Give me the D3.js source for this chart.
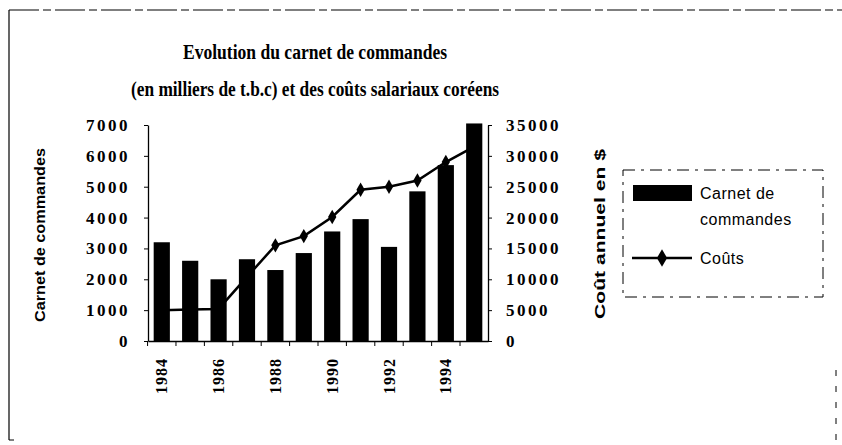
<!DOCTYPE html>
<html><head><meta charset="utf-8">
<script src="https://cdn.jsdelivr.net/npm/d3@7"></script>
<style>body{margin:0;background:#fff}svg{display:block}</style>
</head><body>
<svg id="c" width="842" height="445"></svg>
<script>
const years = [1984,1985,1986,1987,1988,1989,1990,1991,1992,1993,1994,1995];
const carnet = [3200,2600,2000,2650,2300,2850,3550,3950,3050,4850,5700,7050];
const couts = [5000,5100,5200,10400,15500,17000,20100,24500,25000,26000,29000,31500];
const leftTicks = [0,1000,2000,3000,4000,5000,6000,7000];
const rightTicks = [0,5000,10000,15000,20000,25000,30000,35000];
const yearLabels = [1984,1986,1988,1990,1992,1994];
const titleLines = ["Evolution du carnet de commandes","(en milliers de t.b.c) et des coûts salariaux coréens"];
const seriesNames = ["Carnet de commandes","Coûts"];

const svg = d3.select("#c");
const serif = "'Liberation Serif','Times New Roman',serif";
const sans = "'Liberation Sans',Arial,sans-serif";

// frame
svg.append("line").attr("x1",9).attr("y1",10).attr("x2",9).attr("y2",440).attr("stroke","#000").attr("stroke-width",1.2);
svg.append("line").attr("x1",9).attr("y1",10).attr("x2",842).attr("y2",10).attr("stroke","#000").attr("stroke-width",1.2).attr("stroke-dasharray","30,4,8,4");
svg.append("line").attr("x1",9).attr("y1",440).attr("x2",14).attr("y2",440).attr("stroke","#000");
svg.append("line").attr("x1",836).attr("y1",370).attr("x2",836).attr("y2",440).attr("stroke","#000").attr("stroke-dasharray","6,10");

const x = d3.scaleBand().domain(years).range([148,488]).paddingInner(0.43).paddingOuter(0.2);
const yL = d3.scaleLinear().domain([0,7000]).range([341,125]);
const yR = d3.scaleLinear().domain([0,35000]).range([341,125]);

// title
svg.append("g").selectAll("text").data(titleLines).join("text")
  .attr("x",315).attr("y",(d,i)=>59+i*37).attr("text-anchor","middle")
  .attr("font-family",serif).attr("font-weight","bold").attr("font-size",20)
  .attr("textLength",(d,i)=>i?368:264).attr("lengthAdjust","spacingAndGlyphs")
  .text(d=>d);

// bars
svg.append("g").selectAll("rect").data(years).join("rect")
  .attr("x",d=>x(d)).attr("width",x.bandwidth())
  .attr("y",(d,i)=>yL(carnet[i])).attr("height",(d,i)=>yL(0)-yL(carnet[i]))
  .attr("fill","#000");

// axes
const fmt = d3.format("d");
const axL = svg.append("g").attr("transform","translate(148,0)")
  .call(d3.axisLeft(yL).tickValues(leftTicks).tickFormat(fmt).tickSize(4).tickSizeOuter(0).tickPadding(14));
const axR = svg.append("g").attr("transform","translate(488,0)")
  .call(d3.axisRight(yR).tickValues(rightTicks).tickFormat(fmt).tickSize(4).tickSizeOuter(0).tickPadding(14));
[axL,axR].forEach(a=>{
  a.selectAll("text").attr("font-family",serif).attr("font-weight","bold").attr("font-size",17).attr("letter-spacing","2.5px").attr("fill","#000");
  a.select(".domain").attr("stroke-width",1.3);
});
const axB = svg.append("g").attr("transform","translate(0,341)")
  .call(d3.axisBottom(x).tickValues(yearLabels).tickSize(0).tickSizeOuter(0).tickPadding(0));
axB.select(".domain").attr("stroke-width",1.3);
axB.selectAll("text").attr("font-family",serif).attr("font-weight","bold").attr("font-size",16)
  .attr("letter-spacing","1px")
  .attr("transform","rotate(-90)").attr("text-anchor","end").attr("x",-17).attr("y",0).attr("dy","0.35em");
// boundary ticks on x axis
const step = x.step();
svg.append("g").selectAll("line").data(years).join("line")
  .attr("x1",d=>x(d)-step*x.paddingInner()/2).attr("x2",d=>x(d)-step*x.paddingInner()/2)
  .attr("y1",341).attr("y2",346).attr("stroke","#000");

// line
const line = d3.line().x((d,i)=>x(years[i])+x.bandwidth()/2).y(d=>yR(d));
svg.append("path").datum(couts).attr("d",line).attr("fill","none").attr("stroke","#000").attr("stroke-width",2.5);
svg.append("g").selectAll("path").data(couts).join("path")
  .attr("transform",(d,i)=>`translate(${x(years[i])+x.bandwidth()/2},${yR(d)})`)
  .attr("d",d3.symbol(d3.symbolDiamond,60)).attr("fill","#000");

// axis titles
svg.append("text").attr("transform","translate(45,235) rotate(-90)").attr("text-anchor","middle")
  .attr("font-family",sans).attr("font-weight","bold").attr("font-size",15)
  .attr("textLength",174).attr("lengthAdjust","spacingAndGlyphs").text("Carnet de commandes");
svg.append("text").attr("transform","translate(605,234) rotate(-90)").attr("text-anchor","middle")
  .attr("font-family",sans).attr("font-weight","bold").attr("font-size",15)
  .attr("textLength",170).attr("lengthAdjust","spacingAndGlyphs").text("Coût annuel en $");

// legend
const lg = svg.append("g");
lg.append("rect").attr("x",623).attr("y",170).attr("width",200).attr("height",127)
  .attr("fill","none").attr("stroke","#000").attr("stroke-dasharray","12,6,3,6");
lg.append("rect").attr("x",633).attr("y",185).attr("width",59).attr("height",16).attr("fill","#000");
lg.append("text").attr("x",700).attr("y",199).attr("font-family",sans).attr("font-size",16).attr("letter-spacing","0.5px").text("Carnet de");
lg.append("text").attr("x",700).attr("y",225).attr("font-family",sans).attr("font-size",16).attr("letter-spacing","0.5px").text("commandes");
lg.append("line").attr("x1",632).attr("x2",692).attr("y1",258).attr("y2",258).attr("stroke","#000").attr("stroke-width",2.5);
lg.append("path").attr("transform","translate(662,258)").attr("d",d3.symbol(d3.symbolDiamond,90)).attr("fill","#000");
lg.append("text").attr("x",700).attr("y",264).attr("font-family",sans).attr("font-size",16).attr("letter-spacing","0.5px").text("Coûts");
</script>
</body></html>
